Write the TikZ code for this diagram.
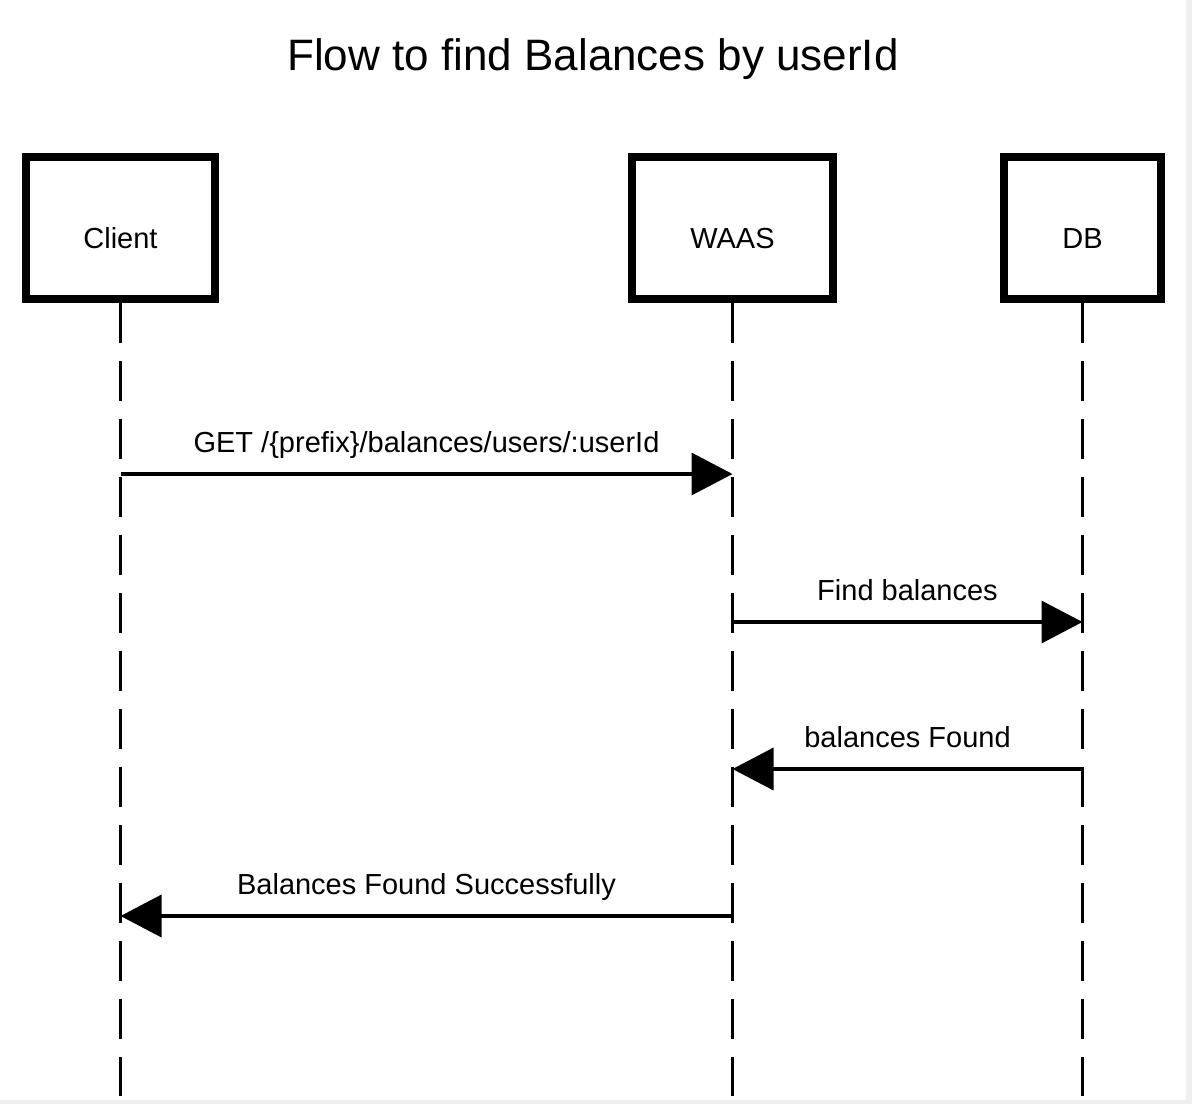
\documentclass[tikz,border=0pt]{standalone}
\usepackage{fontspec}
\setmainfont{Liberation Sans}
\usetikzlibrary{arrows.meta}
\definecolor{edgegray}{HTML}{EFEFEF}
\tikzset{
  actor/.style={draw=black, line width=8pt, fill=white, minimum height=142pt,
    inner sep=0pt, font=\fontsize{29}{35}\selectfont, text height=40pt, text depth=0pt},
  lifeline/.style={line width=3.5pt, dash pattern=on 40pt off 18pt},
  msg/.style={line width=3.5pt, -{Triangle[length=41pt,width=42pt]}},
  msglabel/.style={font=\fontsize{29}{35}\selectfont, anchor=base, inner sep=0pt},
}
\begin{document}
\begin{tikzpicture}[x=1pt,y=-1pt]
\useasboundingbox (0,0) rectangle (1192,1104);
\fill[edgegray] (1186,0) rectangle (1192,1104);
\fill[edgegray] (0,1100) rectangle (1192,1104);

\node[anchor=base, font=\fontsize{44}{53}\selectfont, inner sep=0pt] (title) at (593,70) {Flow to find Balances by userId};

% lifeline end points
\coordinate (clientend) at (120.5,1096);
\coordinate (waasend) at (732.5,1096);
\coordinate (dbend) at (1082.5,1096);

\node[actor, minimum width=189pt] (client) at (120.5,228) {Client};
\node[actor, minimum width=201pt] (waas) at (732.5,228) {WAAS};
\node[actor, minimum width=157pt] (db) at (1082.5,228) {DB};

\draw[lifeline] (client.south) -- (clientend);
\draw[lifeline] (waas.south) -- (waasend);
\draw[lifeline] (db.south) -- (dbend);

% message anchor points on lifelines
\coordinate (m1s) at (120.5,474);
\coordinate (m1e) at (732.5,474);
\coordinate (m2s) at (732.5,622);
\coordinate (m2e) at (1082.5,622);
\coordinate (m3s) at (1082.5,769);
\coordinate (m3e) at (732.5,769);
\coordinate (m4s) at (732.5,916);
\coordinate (m4e) at (120.5,916);

\draw[msg] (m1s) -- (m1e);
\draw[msg] (m2s) -- (m2e);
\draw[msg] (m3s) -- (m3e);
\draw[msg] (m4s) -- (m4e);

\node[msglabel] (l1) at (426.5,452) {GET /\{prefix\}/balances/users/:userId};
\node[msglabel] (l2) at (907.5,600) {Find balances};
\node[msglabel] (l3) at (907.5,747) {balances Found};
\node[msglabel] (l4) at (426.5,894) {Balances Found Successfully};
\end{tikzpicture}
\end{document}
